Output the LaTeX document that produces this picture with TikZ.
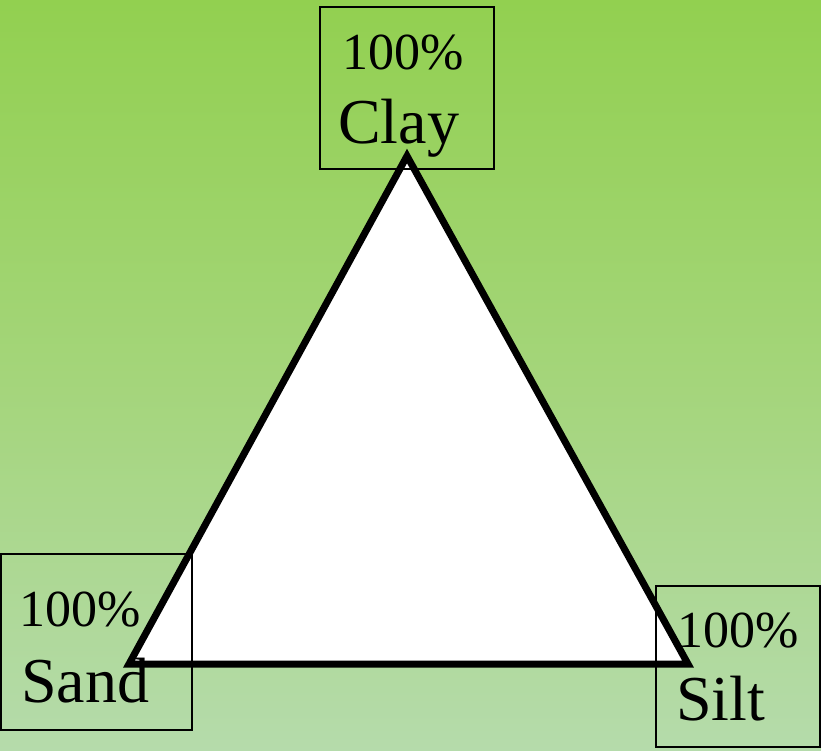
\documentclass[tikz,border=0pt]{standalone}
\usepackage{fontspec}
\setmainfont{Liberation Serif}
\definecolor{grasstop}{HTML}{92D050}
\definecolor{grassmid}{HTML}{A4D57A}
\definecolor{grassbot}{HTML}{B5DBAB}

\begin{document}
\begin{tikzpicture}[x=1pt,y=-1pt,
  corner/.style={draw=black,line width=1.6pt},
  pct/.style={anchor=base west,inner sep=0pt,font=\fontsize{52}{58}\selectfont},
  soil/.style={anchor=base west,inner sep=0pt,font=\fontsize{64}{70}\selectfont}]
\path[use as bounding box] (0,0) rectangle (821,750);
\shade[top color=grasstop,bottom color=grassbot,middle color=grassmid] (0,0) rectangle (821,750);
% soil triangle
\coordinate (clay) at (407,156);
\coordinate (sand) at (129,664);
\coordinate (silt) at (688,664);
\draw[fill=white,line width=7pt] (clay)--(silt)--(sand)--cycle;
% corner boxes
\draw[corner] (320,7) rectangle (494,169);
\node[pct] (clayp) at (342,69) {100\%};
\node[soil] (clayt) at (338,143) {Clay};
\draw[corner] (1,554) rectangle (192,730);
\node[pct] (sandp) at (19,626) {100\%};
\node[soil] (sandt) at (21,702) {Sand};
\draw[corner] (656,586) rectangle (820,747);
\node[pct] (siltp) at (677,647) {100\%};
\node[soil] (siltt) at (676,720) {Silt};
\end{tikzpicture}
\end{document}
